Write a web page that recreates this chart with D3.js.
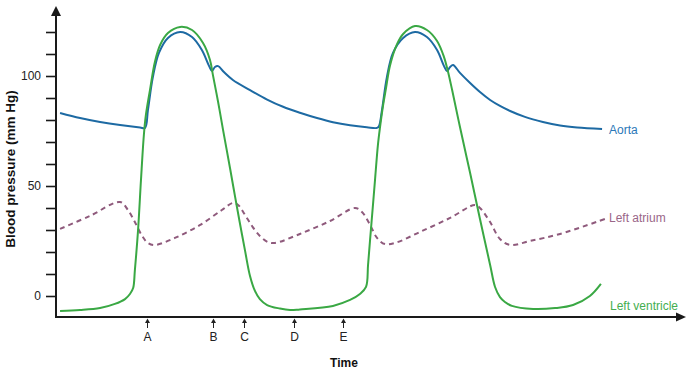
<!DOCTYPE html>
<html>
<head>
<meta charset="utf-8">
<script src="https://cdn.jsdelivr.net/npm/d3@7"></script>
<style>
  html, body { margin: 0; padding: 0; background: #fff; }
  svg { display: block; font-family: "Liberation Sans", Arial, sans-serif; }
</style>
</head>
<body>
<svg id="chart" width="700" height="372"></svg>
<script>
// time in seconds, pressure in mm Hg
const aortaTime = [0.014,0.083,0.152,0.221,0.290,0.307,0.317,0.334,0.355,0.386,0.428,0.469,0.503,0.528,0.538,0.548,0.559,0.579,0.610,0.669,0.728,0.783,0.841,0.900,0.955,1.014,1.072,1.107,1.114,1.124,1.141,1.162,1.197,1.238,1.279,1.314,1.338,1.348,1.359,1.369,1.393,1.428,1.462,1.497,1.531,1.566,1.617,1.679,1.738,1.797,1.883];
const aortaP =    [83.2,80.9,79.1,77.7,76.6,76.4,84.5,99.5,110.5,117.3,120.0,117.7,111.8,104.5,102.3,104.1,104.5,101.8,98.2,93.6,89.3,86.0,83.3,80.9,79.0,77.6,76.7,76.4,77.3,84.5,99.5,110.5,117.3,120.0,117.7,111.8,104.5,102.3,104.1,105.0,101.4,96.8,92.7,89.1,86.4,84.1,81.4,79.1,77.5,76.6,75.9];

const lvTime = [0.014,0.083,0.152,0.203,0.238,0.255,0.266,0.272,0.283,0.293,0.303,0.310,0.324,0.341,0.359,0.386,0.428,0.469,0.507,0.531,0.541,0.559,0.576,0.600,0.617,0.634,0.652,0.669,0.686,0.703,0.728,0.772,0.807,0.841,0.955,1.014,1.048,1.069,1.076,1.083,1.093,1.100,1.110,1.117,1.128,1.138,1.152,1.176,1.197,1.238,1.279,1.314,1.338,1.352,1.366,1.393,1.428,1.462,1.497,1.514,1.531,1.548,1.572,1.645,1.721,1.783,1.841,1.879];
const lvP =    [-6.8,-6.4,-5.5,-3.6,-1.4,0.9,3.6,11.8,30.0,52.7,73.2,82.3,93.6,106.4,114.1,119.5,122.3,120.9,115.0,107.3,100.5,88.2,75.5,58.2,45.5,33.2,20.5,9.1,2.3,-1.4,-4.1,-5.7,-6.4,-6.1,-4.5,-1.8,0.9,4.1,14.1,25.5,41.4,52.7,68.6,76.4,86.8,94.5,104.9,114.5,119.1,122.7,120.9,115.9,108.6,101.8,93.6,76.8,55.9,35.0,14.1,4.1,-0.5,-2.7,-4.5,-5.9,-5.5,-4.1,0.0,5.5];

const laTime = [0.014,0.117,0.221,0.248,0.272,0.297,0.317,0.341,0.410,0.497,0.572,0.610,0.628,0.652,0.676,0.703,0.731,0.755,0.841,0.945,1.031,1.055,1.083,1.107,1.134,1.169,1.255,1.359,1.445,1.462,1.497,1.531,1.566,1.634,1.738,1.893];
const laP =    [30.5,36.4,42.7,39.1,33.6,27.3,24.1,23.2,26.4,32.3,39.1,42.3,41.4,36.8,31.8,27.3,24.5,24.1,28.2,34.1,40.0,38.2,32.3,26.4,23.6,24.1,29.1,35.5,41.4,40.0,33.6,25.9,23.2,25.0,28.2,35.0];

const yTickValues = [0,10,20,30,40,50,60,70,80,90,100,110,120];
const yTickLabels = ["0","","","","","50","","","","","100","",""];
const markerNames = ["A","B","C","D","E"];
const markerTimes = [0.314,0.541,0.648,0.821,0.990];
const seriesNames = ["Aorta","Left atrium","Left ventricle"];

const svg = d3.select("#chart");
const x = d3.scaleLinear().domain([0, 2]).range([56, 636]);
const y = d3.scaleLinear().domain([0, 100]).range([296, 76]);

const axisColor = "#1a1a1a";
const blue = "#1d6aa3", green = "#3aa844", mauve = "#8f5a7c";

// y axis
const yAxis = d3.axisLeft(y).tickValues(yTickValues)
  .tickFormat((d, i) => yTickLabels[i]).tickSize(10).tickPadding(5);
const gy = svg.append("g").attr("transform", "translate(56,0)").call(yAxis);
gy.select(".domain").remove();
gy.selectAll(".tick line").attr("stroke", axisColor).attr("stroke-width", 1.6);
gy.selectAll(".tick text").attr("font-size", 12).attr("fill", "#222")
  .attr("font-family", "Liberation Sans, Arial, sans-serif");

svg.append("line").attr("x1", 56).attr("x2", 56).attr("y1", 318).attr("y2", 14)
  .attr("stroke", axisColor).attr("stroke-width", 2);
svg.append("path").attr("d", "M56,6 L51,16 L61,16 Z").attr("fill", axisColor);

// x axis
svg.append("line").attr("x1", 55).attr("x2", 678).attr("y1", 317).attr("y2", 317)
  .attr("stroke", axisColor).attr("stroke-width", 2);
svg.append("path").attr("d", "M686,317 L676,312.5 L676,321.5 Z").attr("fill", axisColor);

// axis titles
svg.append("text").attr("transform", "translate(15,169) rotate(-90)")
  .attr("text-anchor", "middle").attr("font-size", 13.5).attr("font-weight", "bold")
  .attr("fill", "#111").text("Blood pressure (mm Hg)");
svg.append("text").attr("x", 344).attr("y", 367).attr("text-anchor", "middle")
  .attr("font-size", 12).attr("font-weight", "bold").attr("fill", "#111").text("Time");

// markers
const mk = svg.append("g");
markerTimes.forEach((t, i) => {
  const mx = Math.round(x(t)) + 0.5;
  mk.append("line").attr("x1", mx).attr("x2", mx).attr("y1", 321).attr("y2", 328)
    .attr("stroke", "#222").attr("stroke-width", 1);
  mk.append("path").attr("d", `M${mx},318.5 L${mx-2.5},323 L${mx+2.5},323 Z`).attr("fill", "#222");
  mk.append("text").attr("x", mx).attr("y", 341).attr("text-anchor", "middle")
    .attr("font-size", 12).attr("fill", "#222").text(markerNames[i]);
});

// series
const line = d3.line().x(d => x(d[0])).y(d => y(d[1])).curve(d3.curveCatmullRom.alpha(0.5));
const zip = (a, b) => a.map((t, i) => [t, b[i]]);

svg.append("path").datum(zip(laTime, laP)).attr("d", line)
  .attr("fill", "none").attr("stroke", mauve).attr("stroke-width", 2)
  .attr("stroke-dasharray", "5,4");
svg.append("path").datum(zip(aortaTime, aortaP)).attr("d", line)
  .attr("fill", "none").attr("stroke", blue).attr("stroke-width", 2);
svg.append("path").datum(zip(lvTime, lvP)).attr("d", line)
  .attr("fill", "none").attr("stroke", green).attr("stroke-width", 2);

// series labels
const labelColors = ["#2a78b8", "#9a6688", "#44ae4f"];
const labelPos = [[609, 134], [609, 222], [610, 310]];
seriesNames.forEach((n, i) => {
  svg.append("text").attr("x", labelPos[i][0]).attr("y", labelPos[i][1])
    .attr("font-size", 12).attr("fill", labelColors[i]).text(n);
});
</script>
</body>
</html>
